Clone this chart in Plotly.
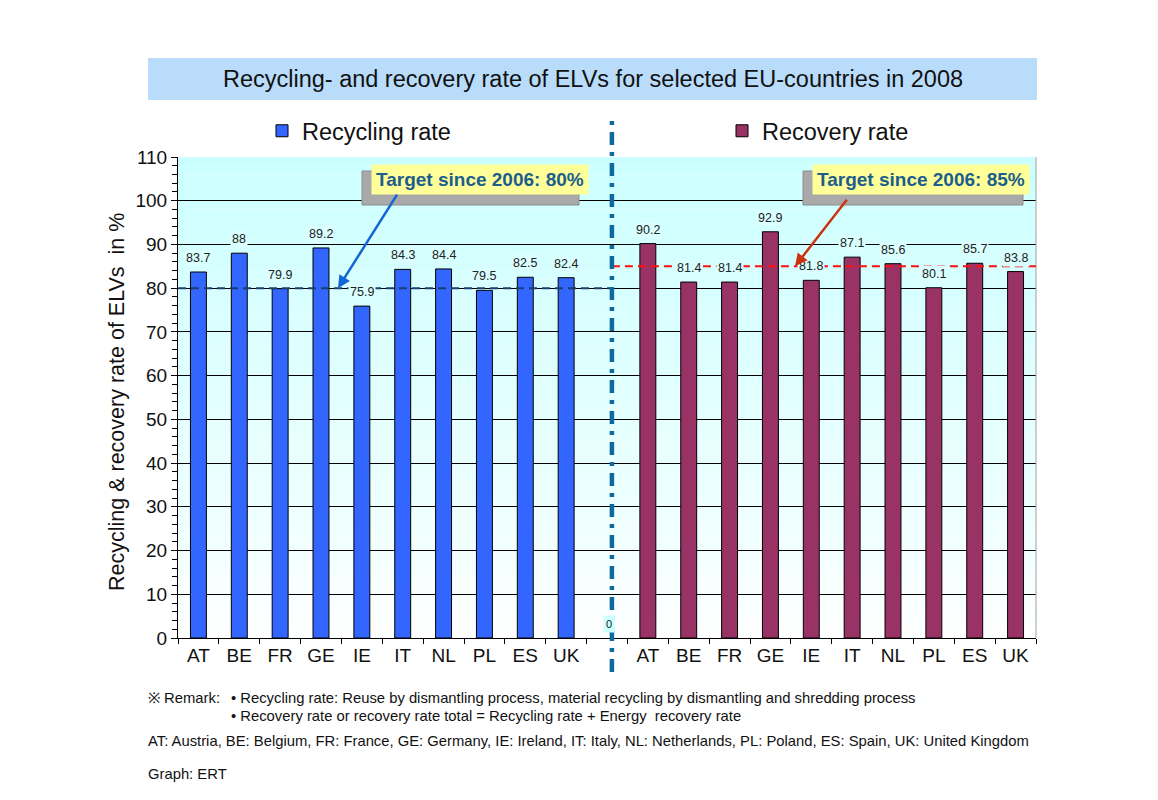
import plotly.graph_objects as go

# ---------------- data ----------------
countries = ["AT", "BE", "FR", "GE", "IE", "IT", "NL", "PL", "ES", "UK"]
recycling_rate = [83.7, 88, 79.9, 89.2, 75.9, 84.3, 84.4, 79.5, 82.5, 82.4]
recovery_rate = [90.2, 81.4, 81.4, 92.9, 81.8, 87.1, 85.6, 80.1, 85.7, 83.8]
gap_value = [0]
target_recycling = 80
target_recovery = 85
y_ticks = list(range(0, 111, 10))

title_text = "Recycling- and recovery rate of ELVs for selected EU-countries in 2008"
remark_label = "※ Remark:"
remark_lines = [
    "• Recycling rate: Reuse by dismantling process, material recycling by dismantling and shredding process",
    "• Recovery rate or recovery rate total = Recycling rate + Energy  recovery rate",
]
abbrev_text = ("AT: Austria, BE: Belgium, FR: France, GE: Germany, IE: Ireland, IT: Italy, "
               "NL: Netherlands, PL: Poland, ES: Spain, UK: United Kingdom")
source_text = "Graph: ERT"

# ---------------- setup ----------------
FONT = "Arial, 'Liberation Sans', sans-serif"
OFF = 8  # default page body margin
W, H = 1158 - OFF, 800 - OFF
rec_ids = ["rcy_" + c for c in countries]
rcv_ids = ["rcv_" + c for c in countries]
gap_id = ["gap"]
all_ids = rec_ids + gap_id + rcv_ids
tick_text = countries + [""] + countries

BLUE = "#3366ff"
MAROON = "#993366"

fig = go.Figure()
fig.add_trace(go.Bar(x=rec_ids, y=recycling_rate, name="Recycling rate",
                     marker=dict(color=BLUE, line=dict(color="black", width=1)),
                     width=0.39, legend="legend", hoverinfo="y"))
fig.add_trace(go.Bar(x=gap_id, y=gap_value, name="gap", showlegend=False,
                     marker=dict(color="rgba(0,0,0,0)", line=dict(width=0)),
                     width=0.39, hoverinfo="skip"))
fig.add_trace(go.Bar(x=rcv_ids, y=recovery_rate, name="Recovery rate",
                     marker=dict(color=MAROON, line=dict(color="black", width=1)),
                     width=0.39, legend="legend2", hoverinfo="y"))


def px2x(px):
    return (px - 178) / 858.0


def py2y(py):
    return (638 - py) / 481.0


shapes = []
# vertical gradient background (white at bottom -> light cyan at top)
N = 55
for i in range(N):
    f = (i + 0.5) / N
    g = int(round(255 - 52 * min(1.0, f ** 0.85)))
    shapes.append(dict(type="rect", xref="x domain", yref="y",
                       x0=0, x1=1, y0=110 * i / N, y1=110 * (i + 1) / N,
                       fillcolor=f"rgb({g},255,255)", line=dict(width=0), layer="below"))
# right frame line
shapes.append(dict(type="line", xref="x domain", yref="y domain", x0=1, x1=1, y0=0, y1=1,
                   line=dict(color="#a0a0a0", width=1)))
# target lines
shapes.append(dict(type="line", xref="x", yref="y", x0=-0.5, x1=10.12, y0=target_recycling,
                   y1=target_recycling, line=dict(color="#1a3f6e", width=2, dash="8px,5px")))
shapes.append(dict(type="line", xref="x", yref="y", x0=10.12, x1=20.5, y0=target_recovery,
                   y1=target_recovery, line=dict(color="#ff1010", width=2, dash="8px,5px")))
# vertical separator (dash-dot)
shapes.append(dict(type="line", xref="x", yref="paper", x0=10.12, x1=10.12, y0=py2y(672), y1=py2y(120),
                   line=dict(color="#0e6a9e", width=4.5, dash="13px,7px,4px,7px")))
# title box
shapes.append(dict(type="rect", xref="paper", yref="paper", x0=px2x(148), x1=px2x(1037),
                   y0=py2y(100), y1=py2y(58), fillcolor="#b8dcfa", line=dict(width=0), layer="below"))
# target box shadows
for (l, r, t, b) in [(362, 579, 171, 205), (803, 1023, 171, 205)]:
    shapes.append(dict(type="rect", xref="paper", yref="paper", x0=px2x(l), x1=px2x(r),
                       y0=py2y(b), y1=py2y(t), fillcolor="#a9a9a9",
                       line=dict(color="#8c8c8c", width=1)))

annotations = []
# data labels
for ids, vals in [(rec_ids, recycling_rate), (rcv_ids, recovery_rate)]:
    for xi, v in zip(ids, vals):
        annotations.append(dict(x=xi, y=v, xref="x", yref="y", text=f"{v:g}",
                                showarrow=False, yanchor="bottom", yshift=5,
                                font=dict(family=FONT, size=12.5, color="#222222"),
                                bgcolor="#d9ffff", borderpad=1))
annotations.append(dict(x=gap_id[0], y=gap_value[0], xref="x", yref="y", text=f"{gap_value[0]:g}",
                        showarrow=False, yanchor="bottom", yshift=5, xshift=2,
                        font=dict(family=FONT, size=11, color="#222222"),
                        bgcolor="#ccffff", borderpad=2))
# target boxes
for xl, txt in [(371, "<b>Target since 2006: 80%</b>"), (812, "<b>Target since 2006: 85%</b>")]:
    annotations.append(dict(xref="paper", yref="paper", x=px2x(xl), y=py2y(180), xanchor="left",
                            yanchor="middle", text=txt, showarrow=False,
                            font=dict(family=FONT, size=19, color="#1b5e8e"), bgcolor="#ffff99",
                            borderpad=4))
# arrows
annotations.append(dict(xref="paper", yref="y", x=px2x(338), y=target_recycling, text="",
                        showarrow=True, arrowhead=2, arrowsize=1, arrowwidth=2.5,
                        arrowcolor="#1466d6", ax=60, ay=-95))
annotations.append(dict(xref="paper", yref="y", x=px2x(795), y=target_recovery, text="",
                        showarrow=True, arrowhead=2, arrowsize=1, arrowwidth=2.5,
                        arrowcolor="#cc3311", ax=53, ay=-68))
# footnotes
foot_font = dict(family=FONT, size=14.8, color="#111111")
annotations.append(dict(xref="paper", yref="paper", x=px2x(146), y=py2y(698), xanchor="left",
                        yanchor="middle", text=remark_label, showarrow=False, font=foot_font))
for i, line in enumerate(remark_lines):
    annotations.append(dict(xref="paper", yref="paper", x=px2x(229), y=py2y(698 + 18 * i),
                            xanchor="left", yanchor="middle", text=line, showarrow=False,
                            font=foot_font))
annotations.append(dict(xref="paper", yref="paper", x=px2x(146), y=py2y(741), xanchor="left",
                        yanchor="middle", text=abbrev_text, showarrow=False, font=foot_font))
annotations.append(dict(xref="paper", yref="paper", x=px2x(146), y=py2y(774), xanchor="left",
                        yanchor="middle", text=source_text, showarrow=False, font=foot_font))
# y-axis title as rotated text at the reference position
annotations.append(dict(xref="paper", yref="paper", x=px2x(117), y=py2y(402),
                        text="Recycling & recovery rate of ELVs  in %",
                        textangle=-90, showarrow=False, xanchor="center", yanchor="middle",
                        font=dict(family=FONT, size=21.5, color="#111111")))

fig.update_layout(
    width=W, height=H,
    margin=dict(l=178 - OFF, r=1158 - 1036, t=157 - OFF, b=800 - 638, pad=0),
    paper_bgcolor="white", plot_bgcolor="white",
    title=dict(text=title_text, x=(593 - OFF) / W, y=1 - (79 - OFF) / H, xanchor="center",
               yanchor="middle", xref="container", yref="container",
               font=dict(family=FONT, size=23.5, color="#111111")),
    bargap=0.6,
    shapes=shapes, annotations=annotations,
    legend=dict(orientation="h", x=px2x(262), y=py2y(131), xanchor="left", yanchor="middle",
                font=dict(family=FONT, size=23.5, color="#111111"), bgcolor="rgba(0,0,0,0)"),
    legend2=dict(orientation="h", x=px2x(722), y=py2y(131), xanchor="left", yanchor="middle",
                 font=dict(family=FONT, size=23.5, color="#111111"), bgcolor="rgba(0,0,0,0)"),
    xaxis=dict(type="category", categoryorder="array", categoryarray=all_ids,
               tickmode="array", tickvals=all_ids, ticktext=tick_text, tickson="boundaries",
               ticks="outside", ticklen=5, tickcolor="black", showgrid=False,
               showline=True, linecolor="black", linewidth=1, range=[-0.5, 20.5],
               tickfont=dict(family=FONT, size=19, color="#111111")),
    yaxis=dict(range=[0, 110], tickmode="array", tickvals=y_ticks, ticks="outside",
               ticklen=6, tickcolor="black", showgrid=True, gridcolor="black", gridwidth=1,
               showline=True, linecolor="black", linewidth=1, zeroline=False,
               minor=dict(dtick=2, ticks="outside", ticklen=5, tickcolor="black", showgrid=False),
               tickfont=dict(family=FONT, size=19, color="#111111")),
)

fig.write_html("out.html")
